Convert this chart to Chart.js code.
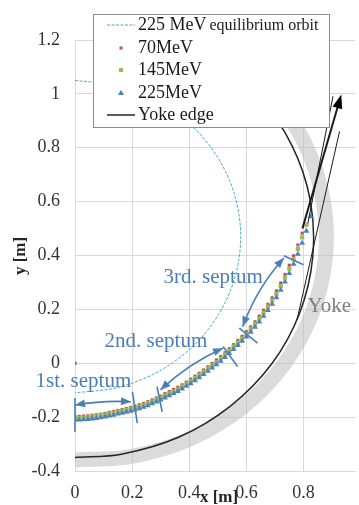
<!DOCTYPE html>
<html lang="en">
<head>
<meta charset="UTF-8">
<title>Extraction trajectories</title>
<script src="https://cdn.jsdelivr.net/npm/chart.js"></script>
<style>
  html, body { margin: 0; padding: 0; background: #fff; overflow: hidden; }
  #wrap { width: 359px; height: 505px; position: relative; }
</style>
</head>
<body>
<div id="wrap"><canvas id="chart"></canvas></div>
<script>
// ---- values (metres) ----
const xTicks = [0, 0.2, 0.4, 0.6, 0.8];
const yTicks = [-0.4, -0.2, 0, 0.2, 0.4, 0.6, 0.8, 1, 1.2];

// 225 MeV equilibrium orbit (dashed)
const orbitX = [0, 0.150, 0.290, 0.410, 0.502, 0.560, 0.580, 0.560, 0.502, 0.410, 0.290, 0.150, 0];
const orbitY = [1.050, 1.030, 0.972, 0.880, 0.760, 0.620, 0.470, 0.320, 0.180, 0.060, -0.032, -0.090, -0.110];

// extraction trajectories
const trajX = [0, 0.015, 0.03, 0.045, 0.06, 0.075, 0.09, 0.105, 0.12, 0.135,
  0.15, 0.165, 0.18, 0.195, 0.21, 0.225, 0.24, 0.255, 0.27, 0.285,
  0.3, 0.315, 0.33, 0.345, 0.36, 0.375, 0.39, 0.405, 0.42, 0.435,
  0.45, 0.465, 0.48, 0.495, 0.51, 0.525, 0.54, 0.555, 0.57, 0.585,
  0.6, 0.615, 0.63, 0.645, 0.66, 0.675, 0.69, 0.705, 0.72, 0.735,
  0.75, 0.765, 0.78, 0.795, 0.81, 0.825];
const y70 = [-0.197, -0.197, -0.196, -0.195, -0.193, -0.191, -0.189, -0.186, -0.182, -0.179,
  -0.175, -0.172, -0.168, -0.164, -0.159, -0.154, -0.149, -0.143, -0.136, -0.129,
  -0.122, -0.113, -0.105, -0.097, -0.089, -0.080, -0.070, -0.059, -0.048, -0.037,
  -0.025, -0.013, -0.001, 0.012, 0.025, 0.039, 0.054, 0.069, 0.085, 0.100,
  0.117, 0.135, 0.154, 0.175, 0.197, 0.219, 0.243, 0.269, 0.298, 0.330,
  0.364, 0.399, 0.439, 0.483];
const y145 = [-0.203, -0.203, -0.202, -0.200, -0.198, -0.196, -0.194, -0.191, -0.187, -0.184,
  -0.180, -0.177, -0.173, -0.169, -0.165, -0.160, -0.155, -0.149, -0.142, -0.135,
  -0.128, -0.120, -0.112, -0.104, -0.096, -0.086, -0.076, -0.066, -0.055, -0.044,
  -0.032, -0.020, -0.008, 0.004, 0.018, 0.032, 0.047, 0.062, 0.077, 0.092,
  0.109, 0.127, 0.146, 0.166, 0.187, 0.210, 0.233, 0.258, 0.287, 0.318,
  0.351, 0.386, 0.424, 0.467, 0.514];
const y225 = [-0.210, -0.210, -0.209, -0.208, -0.206, -0.204, -0.202, -0.199, -0.195, -0.192,
  -0.188, -0.185, -0.181, -0.177, -0.173, -0.168, -0.163, -0.157, -0.150, -0.143,
  -0.136, -0.128, -0.120, -0.112, -0.104, -0.095, -0.085, -0.075, -0.064, -0.053,
  -0.041, -0.029, -0.017, -0.005, 0.008, 0.022, 0.037, 0.052, 0.067, 0.082,
  0.098, 0.116, 0.134, 0.154, 0.175, 0.197, 0.220, 0.244, 0.272, 0.302,
  0.334, 0.368, 0.405, 0.446, 0.491, 0.545];
const centreX = [0];
const centreY = [0];

// yoke edge and the grey yoke band
const yokeX = [0, 0.162, 0.364, 0.544, 0.688, 0.786, 0.832, 0.823, 0.759, 0.644, 0.488];
const yokeY = [-0.350, -0.338, -0.274, -0.159, -0.003, 0.186, 0.394, 0.607, 0.809, 0.989, 1.133];
const bandX = [0, 0.194, 0.401, 0.584, 0.730, 0.830, 0.877, 0.867, 0.802, 0.686, 0.526];
const bandY = [-0.359, -0.347, -0.282, -0.166, -0.006, 0.186, 0.398, 0.614, 0.821, 1.004, 1.150];

// annotations (data coordinates)
const septa = [
  { label: '1st. septum', at: [-0.138, -0.087], from: [0.0, -0.155], ctrl: [0.10, -0.137], to: [0.196, -0.143],
    marks: [[0, -0.255, 0, -0.129], [0.201, -0.106, 0.218, -0.222]] },
  { label: '2nd. septum', at: [0.1035, 0.062], from: [0.299, -0.099], ctrl: [0.398, 0.0], to: [0.518, 0.056],
    marks: [[0.287, -0.087, 0.305, -0.180], [0.518, 0.062, 0.569, -0.012]] },
  { label: '3rd. septum', at: [0.31, 0.298], from: [0.587, 0.136], ctrl: [0.636, 0.279], to: [0.731, 0.391],
    marks: [[0.575, 0.130, 0.639, 0.075], [0.731, 0.399, 0.800, 0.366]] }
];
const exitLines = [
  { from: [0.815, 0.52], to: [0.903, 0.991], width: 1, head: false },
  { from: [0.796, 0.50], to: [0.932, 0.998], width: 2, head: true },
  { from: [0.777, 0.161], to: [0.926, 0.861], width: 1, head: false }
];

const SERIF = "'Liberation Serif', 'Times New Roman', serif";
const BLUE = '#4a7ebb';
const pts = (xs, ys) => ys.map((v, i) => ({ x: xs[i], y: v }));

function arrowHead(ctx, tip, from, len, hw) {
  const a = Math.atan2(tip[1] - from[1], tip[0] - from[0]);
  const bx = tip[0] - len * Math.cos(a), by = tip[1] - len * Math.sin(a);
  ctx.beginPath();
  ctx.moveTo(tip[0], tip[1]);
  ctx.lineTo(bx + hw * Math.sin(a), by - hw * Math.cos(a));
  ctx.lineTo(bx - hw * Math.sin(a), by + hw * Math.cos(a));
  ctx.closePath();
  ctx.fill();
}

const extras = {
  id: 'extras',
  afterDatasetsDraw(chart) {
    const { ctx, scales: { x, y } } = chart;
    const P = p => [x.getPixelForValue(p[0]), y.getPixelForValue(p[1])];
    ctx.save();

    // extracted beam lines
    ctx.strokeStyle = '#1a1a1a';
    ctx.fillStyle = '#000';
    exitLines.forEach(l => {
      const a = P(l.from), b = P(l.to);
      ctx.lineWidth = l.width;
      ctx.beginPath();
      let end = b;
      if (l.head) {
        const ang = Math.atan2(b[1] - a[1], b[0] - a[0]);
        end = [b[0] - 10 * Math.cos(ang), b[1] - 10 * Math.sin(ang)];
      }
      ctx.moveTo(a[0], a[1]);
      ctx.lineTo(end[0], end[1]);
      ctx.stroke();
      if (l.head) arrowHead(ctx, b, a, 14, 5);
    });

    // septum arrows and marks
    ctx.strokeStyle = BLUE;
    ctx.fillStyle = BLUE;
    ctx.lineWidth = 1.6;
    septa.forEach(s => {
      const a = P(s.from), c = P(s.ctrl), b = P(s.to);
      ctx.beginPath();
      ctx.moveTo(a[0], a[1]);
      ctx.quadraticCurveTo(c[0], c[1], b[0], b[1]);
      ctx.stroke();
      arrowHead(ctx, a, c, 10, 4);
      arrowHead(ctx, b, c, 10, 4);
      s.marks.forEach(m => {
        const p = P([m[0], m[1]]), q = P([m[2], m[3]]);
        ctx.beginPath();
        ctx.moveTo(p[0], p[1]);
        ctx.lineTo(q[0], q[1]);
        ctx.stroke();
      });
      const t = P(s.at);
      ctx.font = '21px ' + SERIF;
      ctx.textAlign = 'left';
      ctx.textBaseline = 'alphabetic';
      ctx.fillText(s.label, t[0], t[1]);
    });

    // yoke label
    const yk = P([0.814, 0.192]);
    ctx.fillStyle = '#7f7f7f';
    ctx.font = '21px ' + SERIF;
    ctx.fillText('Yoke', yk[0], yk[1]);

    // axis titles
    ctx.fillStyle = '#262626';
    ctx.font = 'bold 17px ' + SERIF;
    ctx.textAlign = 'center';
    ctx.fillText('x [m]', 219, 502);
    ctx.translate(21, 256);
    ctx.rotate(-Math.PI / 2);
    ctx.textBaseline = 'middle';
    ctx.fillText('y [m]', 0, 0);
    ctx.restore();
  },
  afterDraw(chart) {
    const { ctx } = chart;
    ctx.save();
    // legend box
    ctx.fillStyle = '#fff';
    ctx.fillRect(93, 14, 236, 113);
    ctx.strokeStyle = '#8c8c8c';
    ctx.lineWidth = 1;
    ctx.strokeRect(93.5, 14.5, 236, 113);

    const rows = [25, 48, 70, 93, 115];
    // samples
    ctx.strokeStyle = '#4bacc6';
    ctx.setLineDash([3, 1.5]);
    ctx.beginPath(); ctx.moveTo(107, rows[0]); ctx.lineTo(135, rows[0]); ctx.stroke();
    ctx.setLineDash([]);
    ctx.fillStyle = '#c0504d';
    ctx.fillRect(119.5, rows[1] - 1.5, 3, 3);
    ctx.fillStyle = '#9bbb59';
    ctx.fillRect(119, rows[2] - 2, 4, 4);
    ctx.fillStyle = '#4f81bd';
    ctx.beginPath();
    ctx.moveTo(121, rows[3] - 3.2); ctx.lineTo(124, rows[3] + 2); ctx.lineTo(118, rows[3] + 2);
    ctx.closePath(); ctx.fill();
    ctx.strokeStyle = '#262626';
    ctx.lineWidth = 1.5;
    ctx.beginPath(); ctx.moveTo(107, rows[4]); ctx.lineTo(135, rows[4]); ctx.stroke();

    // labels
    ctx.fillStyle = '#1a1a1a';
    ctx.textAlign = 'left';
    ctx.textBaseline = 'middle';
    ctx.font = '18px ' + SERIF;
    ctx.fillText('225 MeV', 138, rows[0]);
    const w = ctx.measureText('225 MeV').width;
    ctx.font = '16px ' + SERIF;
    ctx.fillText('equilibrium orbit', 138 + w + 3, rows[0] + 0.5);
    ctx.font = '18px ' + SERIF;
    ctx.fillText('70MeV', 138, rows[1]);
    ctx.fillText('145MeV', 138, rows[2]);
    ctx.fillText('225MeV', 138, rows[3]);
    ctx.fillText('Yoke edge', 138, rows[4]);
    ctx.restore();
  }
};

new Chart(document.getElementById('chart'), {
  type: 'scatter',
  data: {
    datasets: [
      { label: '225MeV', data: pts(trajX, y225), order: 1, showLine: false,
        pointStyle: 'triangle', pointRadius: 3.4, backgroundColor: '#4f81bd', borderColor: '#4f81bd', borderWidth: 0 },
      { label: 'centre', data: pts(centreX, centreY), order: 1, showLine: false,
        pointStyle: 'rect', pointRadius: 2.4, backgroundColor: '#4f81bd', borderWidth: 0 },
      { label: '145MeV', data: pts(trajX, y145), order: 2, showLine: false,
        pointStyle: 'rect', pointRadius: 3, backgroundColor: '#9bbb59', borderColor: '#9bbb59', borderWidth: 0 },
      { label: '70MeV', data: pts(trajX, y70), order: 3, showLine: false,
        pointStyle: 'rect', pointRadius: 2.2, backgroundColor: '#c0504d', borderColor: '#c0504d', borderWidth: 0 },
      { label: 'Yoke edge', data: pts(yokeX, yokeY), order: 4, showLine: true, tension: 0.33,
        pointRadius: 0, borderColor: '#262626', borderWidth: 1.5 },
      { label: '225 MeV equilibrium orbit', data: pts(orbitX, orbitY), order: 5, showLine: true, tension: 0.33,
        pointRadius: 0, borderColor: '#4bacc6', borderWidth: 1, borderDash: [3, 1.5] },
      { label: 'Yoke', data: pts(bandX, bandY), order: 6, showLine: true, tension: 0.33, clip: 0,
        pointRadius: 0, borderColor: 'rgba(190,190,190,0.55)', borderWidth: 15 }
    ]
  },
  options: {
    responsive: true,
    maintainAspectRatio: false,
    animation: false,
    devicePixelRatio: 1,
    layout: { padding: { top: 40, left: 0, right: 0, bottom: 0 } },
    plugins: { legend: { display: false }, tooltip: { enabled: false } },
    scales: {
      x: {
        type: 'linear', min: 0, max: 0.98,
        afterBuildTicks: axis => { axis.ticks = xTicks.map(v => ({ value: v })); },
        afterFit: s => { s.height = 34; },
        grid: { color: '#d9d9d9', drawTicks: false },
        border: { color: '#d9d9d9' },
        ticks: { padding: 11, color: '#333', font: { family: SERIF, size: 18 },
          callback: v => String(Math.round(v * 10) / 10) }
      },
      y: {
        type: 'linear', min: -0.4, max: 1.2,
        afterBuildTicks: axis => { axis.ticks = yTicks.map(v => ({ value: v })); },
        afterFit: s => { s.width = 75; },
        grid: { color: '#d9d9d9', drawTicks: false },
        border: { color: '#d9d9d9' },
        ticks: { padding: 15, color: '#333', font: { family: SERIF, size: 18 },
          callback: v => String(Math.round(v * 10) / 10) }
      }
    }
  },
  plugins: [extras]
});
</script>
</body>
</html>
